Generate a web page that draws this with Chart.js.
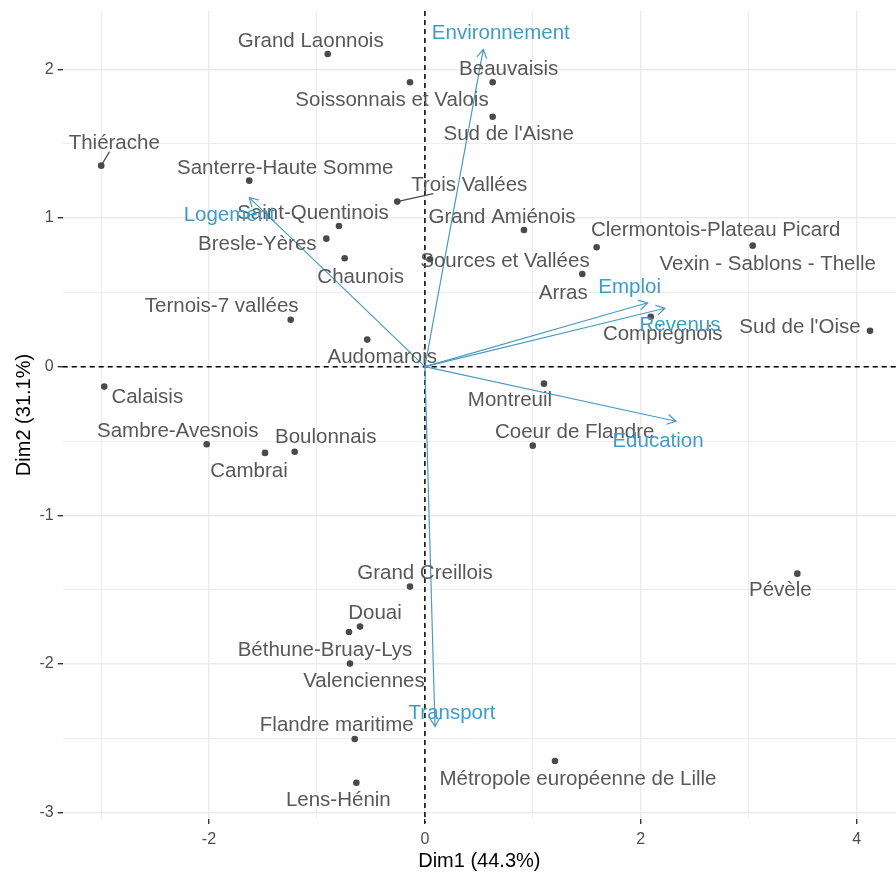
<!DOCTYPE html>
<html>
<head>
<meta charset="utf-8">
<script src="https://cdn.jsdelivr.net/npm/chart.js@4.4.1/dist/chart.umd.min.js"></script>
<style>
  html, body { margin: 0; padding: 0; background: #ffffff; }
  #wrap { width: 896px; height: 873px; }
</style>
</head>
<body>
<div id="wrap"><canvas id="c" width="896" height="873"></canvas></div>
<script>
// ---- data ----
const regions = [
  'Grand Laonnois', 'Soissonnais et Valois', 'Thiérache', 'Santerre-Haute Somme', 'Trois Vallées',
  'Saint-Quentinois', 'Bresle-Yères', 'Chaunois', 'Sources et Vallées', 'Beauvaisis',
  "Sud de l'Aisne", 'Grand Amiénois', 'Clermontois-Plateau Picard', 'Vexin - Sablons - Thelle', 'Arras',
  'Ternois-7 vallées', 'Audomarois', 'Calaisis', 'Sambre-Avesnois', 'Cambrai',
  'Boulonnais', 'Compiegnois', "Sud de l'Oise", 'Montreuil', 'Coeur de Flandre',
  'Grand Creillois', 'Douai', 'Béthune-Bruay-Lys', 'Valenciennes', 'Flandre maritime',
  'Lens-Hénin', 'Pévèle', 'Métropole européenne de Lille'
];
const dim1 = [
  -0.900, -0.138, -2.998, -1.627, -0.256,
  -0.796, -0.913, -0.743, 0.047, 0.628,
  0.628, 0.918, 1.591, 3.037, 1.458,
  -1.243, -0.534, -2.970, -2.021, -1.481,
  -1.206, 2.092, 4.123, 1.103, 0.999,
  -0.138, -0.601, -0.703, -0.694, -0.650,
  -0.635, 3.450, 1.205
];
const dim2 = [
  2.103, 1.913, 1.352, 1.251, 1.110,
  0.946, 0.861, 0.729, 0.722, 1.913,
  1.681, 0.919, 0.803, 0.814, 0.623,
  0.316, 0.182, -0.134, -0.522, -0.580,
  -0.572, 0.336, 0.242, -0.114, -0.531,
  -1.479, -1.748, -1.784, -1.997, -2.504,
  -2.798, -1.392, -2.652
];
const variables = ['Environnement', 'Logement', 'Emploi', 'Revenus', 'Education', 'Transport'];
const varDim1 = [0.541, -1.627, 2.064, 2.224, 2.326, 0.094];
const varDim2 = [2.134, 1.137, 0.430, 0.393, -0.367, -2.421];
const xTickLabels = [-2, 0, 2, 4];
const yTickLabels = [-3, -2, -1, 0, 1, 2];
const xTitle = 'Dim1 (44.3%)';
const yTitle = 'Dim2 (31.1%)';

// ---- label placement (pixel offsets from each mark, as repelled in the reference) ----
const labelDx = [-17, -18, 13, 36, 72, -26, -69, 16, 75, 16, 16, -22, 119, 15, -19, -69, 15, 43, -29, -16, 31, 12, -70, -34, 42, 15, 15, -24, 14, -18, -18, -17, 23];
const labelDy = [-13, 18, -22, -12, -16, -13, 6, 19, 2, -13, 18, -13, -17, 19, 19, -13, 18, 11, -13, 18, -14, 18, -3, 17, -13, -13, -13, 18, 18, -14, 18, 17, 18];
const varLabelDx = [17.5, -20, -18, 15, -18, 17];
const varLabelDy = [-16, 18, -15, 17, 20, -13];

// ---- styles ----
const FONT = "'Liberation Sans', Arial, sans-serif";
const TEXT_GREY = '#585858';
const POINT_GREY = '#4a4a4a';
const BLUE_TEXT = '#3f9cc8';
const BLUE_LINE = '#4a9bc2';

const overlay = {
  id: 'overlay',
  beforeDatasetsDraw(chart) {
    const { ctx, chartArea: a, scales: { x, y } } = chart;
    ctx.save();
    ctx.strokeStyle = '#000';
    ctx.lineWidth = 1.5;
    ctx.setLineDash([5, 4]);
    const x0 = x.getPixelForValue(0), y0 = y.getPixelForValue(0);
    ctx.beginPath();
    ctx.moveTo(x0, a.top); ctx.lineTo(x0, a.bottom + 4);
    ctx.moveTo(a.left, y0); ctx.lineTo(a.right, y0);
    ctx.stroke();
    ctx.restore();
  },
  afterDatasetsDraw(chart) {
    const { ctx, scales: { x, y } } = chart;
    const x0 = x.getPixelForValue(0), y0 = y.getPixelForValue(0);
    ctx.save();
    // arrows
    ctx.strokeStyle = BLUE_LINE;
    ctx.lineWidth = 1.2;
    ctx.setLineDash([]);
    variables.forEach((v, i) => {
      const tx = x.getPixelForValue(varDim1[i]), ty = y.getPixelForValue(varDim2[i]);
      const ang = Math.atan2(ty - y0, tx - x0);
      const L = 10, h = Math.PI / 6;
      ctx.beginPath();
      ctx.moveTo(x0, y0); ctx.lineTo(tx, ty);
      ctx.moveTo(tx - L * Math.cos(ang - h), ty - L * Math.sin(ang - h));
      ctx.lineTo(tx, ty);
      ctx.lineTo(tx - L * Math.cos(ang + h), ty - L * Math.sin(ang + h));
      ctx.stroke();
    });
    // region labels + repel segments
    ctx.font = '20.5px ' + FONT;
    ctx.textAlign = 'center';
    ctx.textBaseline = 'middle';
    regions.forEach((r, i) => {
      const px = x.getPixelForValue(dim1[i]), py = y.getPixelForValue(dim2[i]);
      const lx = px + labelDx[i], ly = py + labelDy[i];
      const w = ctx.measureText(r).width, hh = 8;
      const nx = Math.max(lx - w / 2, Math.min(px, lx + w / 2));
      const ny = Math.max(ly - hh, Math.min(py, ly + hh));
      const d = Math.hypot(nx - px, ny - py);
      if (d > 12.5) {
        // segment from the point toward the label centre, stopping at the label box
        const dx = lx - px, dy = ly - py;
        const tX = dx !== 0 ? (Math.abs(dx) - w / 2) / Math.abs(dx) : 0;
        const tY = dy !== 0 ? (Math.abs(dy) - hh) / Math.abs(dy) : 0;
        const t = Math.max(tX, tY);
        ctx.strokeStyle = '#4a4a4a';
        ctx.lineWidth = 1.2;
        ctx.beginPath();
        ctx.moveTo(px, py);
        ctx.lineTo(px + dx * t, py + dy * t);
        ctx.stroke();
      }
      ctx.fillStyle = TEXT_GREY;
      ctx.fillText(r, lx, ly);
    });
    // variable labels
    ctx.fillStyle = BLUE_TEXT;
    variables.forEach((v, i) => {
      const tx = x.getPixelForValue(varDim1[i]), ty = y.getPixelForValue(varDim2[i]);
      ctx.fillText(v, tx + varLabelDx[i], ty + varLabelDy[i]);
    });
    ctx.restore();
  }
};

const isMajorX = v => xTickLabels.includes(Math.round(v * 1000) / 1000);
const isMajorY = v => yTickLabels.includes(Math.round(v * 1000) / 1000);

new Chart(document.getElementById('c'), {
  type: 'scatter',
  data: {
    datasets: [{
      data: regions.map((r, i) => ({ x: dim1[i], y: dim2[i] })),
      pointRadius: 3.3,
      pointHoverRadius: 3.3,
      pointBackgroundColor: POINT_GREY,
      pointBorderWidth: 0
    }]
  },
  options: {
    responsive: false,
    devicePixelRatio: 1,
    animation: false,
    layout: { autoPadding: false, padding: { top: 11, right: 0, bottom: 0, left: 0 } },
    plugins: { legend: { display: false }, tooltip: { enabled: false } },
    scales: {
      x: {
        type: 'linear',
        min: -3.355, max: 4.364,
        border: { display: false },
        grid: {
          color: '#ebebeb',
          lineWidth: c => isMajorX(c.tick.value) ? 1.4 : 0.9,
          tickColor: c => isMajorX(c.tick.value) ? '#333333' : 'rgba(0,0,0,0)',
          tickLength: 5,
          tickWidth: 1.4
        },
        ticks: {
          stepSize: 1,
          includeBounds: false,
          autoSkip: false,
          maxRotation: 0,
          padding: 6,
          color: '#4d4d4d',
          font: { family: FONT, size: 16 },
          callback: v => isMajorX(v) ? String(v) : ''
        },
        title: {
          display: true, text: xTitle, color: '#000000',
          font: { family: FONT, size: 20 }, padding: { top: 0, bottom: 0 }
        },
        afterFit: s => { s.height = 54; s.paddingLeft = 0; s.paddingRight = 0; }
      },
      y: {
        type: 'linear',
        min: -3.042, max: 2.392,
        border: { display: false },
        grid: {
          color: '#ebebeb',
          lineWidth: c => isMajorY(c.tick.value) ? 1.4 : 0.9,
          tickColor: c => isMajorY(c.tick.value) ? '#333333' : 'rgba(0,0,0,0)',
          tickLength: 5,
          tickWidth: 1.4
        },
        ticks: {
          stepSize: 0.5,
          includeBounds: false,
          autoSkip: false,
          padding: 4,
          color: '#4d4d4d',
          font: { family: FONT, size: 16 },
          callback: v => isMajorY(v) ? String(v) : ''
        },
        title: {
          display: true, text: yTitle, color: '#000000',
          font: { family: FONT, size: 20 }, padding: { top: 12, bottom: 0 }
        },
        afterFit: s => { s.width = 62.7; s.paddingTop = 0; s.paddingBottom = 0; }
      }
    }
  },
  plugins: [overlay]
});
</script>
</body>
</html>
